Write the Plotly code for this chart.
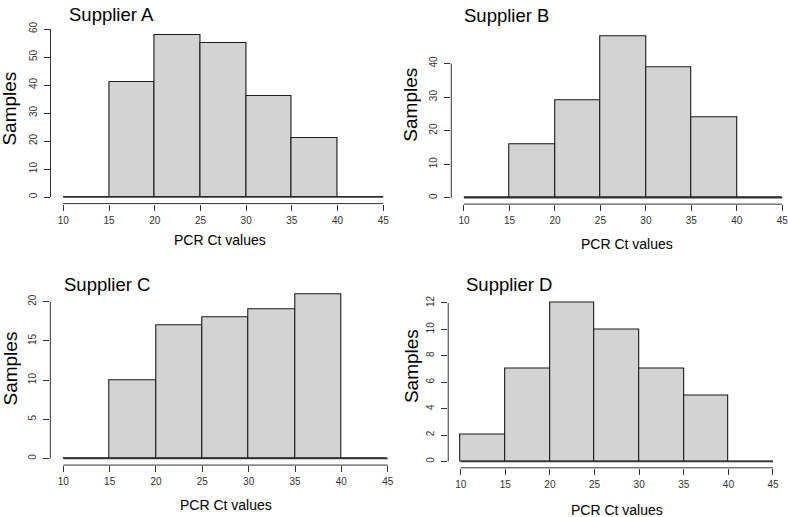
import plotly.graph_objects as go

W, H = 788, 517

bin_edges = [10, 15, 20, 25, 30, 35, 40, 45]
panel_titles = ["Supplier A", "Supplier B", "Supplier C", "Supplier D"]
counts_A = [0, 41, 58, 55, 36, 21, 0]
counts_B = [0, 16, 29, 48, 39, 24, 0]
counts_C = [0, 10, 17, 18, 19, 21, 0]
counts_D = [2, 7, 12, 10, 7, 5, 0]
y_tick_step = [10, 10, 5, 2]
y_tick_top = [60, 40, 20, 12]
x_label = "PCR Ct values"
y_label = "Samples"

all_counts = [counts_A, counts_B, counts_C, counts_D]

# layout geometry in pixels: (px of x=10, px of x=45, px of y=0, px of top tick)
geom = [
    (63.3, 383.3, 192.7, 22.3),
    (464.0, 782.3, 193.3, 57.3),
    (63.3, 387.7, 457.7, 298.7),
    (460.7, 773.0, 460.7, 300.0),
]
title_pos = [(67, 8), (462, 9), (61.7, 281.5), (464, 281.5)]
ylab_pos = [(10, 103), (411, 99), (10.5, 367), (411, 364)]
xlab_pos = [(219.5, 236), (627, 240), (226, 505), (617, 509.5)]

FONT = "Liberation Sans, Arial, Helvetica, sans-serif"
fig = go.Figure()
layout = dict(
    width=W, height=H, margin=dict(l=0, r=0, t=0, b=0),
    paper_bgcolor="white", plot_bgcolor="white", showlegend=False,
    font=dict(family=FONT, color="#000"),
)
shapes = []
annotations = []

for i, counts in enumerate(all_counts):
    n = "" if i == 0 else str(i + 1)
    xa, ya = "x" + n, "y" + n
    p10, p45, py0, pyt = geom[i]
    lo, hi = bin_edges[0], bin_edges[-1]
    sx = (p45 - p10) / (hi - lo)
    padx = 0.04 * (hi - lo)
    left = max(0.0, p10 - padx * sx)
    right = min(W, p45 + padx * sx)
    xrange = [lo - (p10 - left) / sx, hi + (right - p45) / sx]
    ymax = max(counts)
    sy = (py0 - pyt) / y_tick_top[i]
    pady = 0.04 * ymax
    bot = py0 + pady * sy
    top = max(0.0, py0 - (ymax + pady) * sy)
    yrange = [-(bot - py0) / sy, (py0 - top) / sy]

    centers = [(bin_edges[k] + bin_edges[k + 1]) / 2 for k in range(len(counts))]
    widths = [bin_edges[k + 1] - bin_edges[k] for k in range(len(counts))]
    fig.add_trace(go.Bar(
        x=centers, y=counts, width=widths, xaxis=xa, yaxis=ya,
        marker=dict(color="#D3D3D3", line=dict(color="#1a1a1a", width=1.1)),
        hoverinfo="skip",
    ))
    fig.add_trace(go.Scatter(
        x=[bin_edges[0], bin_edges[-1]], y=[0, 0], mode="lines",
        line=dict(color="#333", width=1.5), xaxis=xa, yaxis=ya, hoverinfo="skip",
    ))

    yt = list(range(0, y_tick_top[i] + 1, y_tick_step[i]))
    layout["xaxis" + n] = dict(
        domain=[left / W, right / W], range=xrange, anchor=ya,
        tickvals=bin_edges, ticks="outside", ticklen=6, tickcolor="#333",
        tickfont=dict(size=10, color="#333"), ticklabelstandoff=1,
        ticklabeloverflow="allow",
        showline=False, showgrid=False, zeroline=False, fixedrange=True,
    )
    layout["yaxis" + n] = dict(
        domain=[(H - bot) / H, (H - top) / H], range=yrange, anchor=xa,
        tickvals=yt, ticks="outside", ticklen=6, tickcolor="#333",
        tickfont=dict(size=10, color="#333"), tickangle=-90, ticklabelstandoff=3,
        ticklabeloverflow="allow",
        showline=False, showgrid=False, zeroline=False, fixedrange=True,
    )
    shapes.append(dict(type="line", xref=xa, yref=ya + " domain",
                       x0=bin_edges[0], x1=bin_edges[-1], y0=0, y1=0,
                       line=dict(color="#333", width=1)))
    shapes.append(dict(type="line", xref=xa + " domain", yref=ya,
                       x0=0, x1=0, y0=yt[0], y1=yt[-1],
                       line=dict(color="#333", width=1)))

    tx, ty = title_pos[i]
    annotations.append(dict(text=panel_titles[i], x=tx / W, y=1 - ty / H,
                            xref="paper", yref="paper", xanchor="left", yanchor="middle",
                            showarrow=False, font=dict(size=18.5, color="#000")))
    lx, ly = ylab_pos[i]
    annotations.append(dict(text=y_label, x=lx / W, y=1 - ly / H,
                            xref="paper", yref="paper", xanchor="center", yanchor="middle",
                            textangle=-90, showarrow=False, font=dict(size=19, color="#000")))
    bx, by = xlab_pos[i]
    annotations.append(dict(text=x_label, x=bx / W, y=1 - by / H,
                            xref="paper", yref="paper", xanchor="center", yanchor="middle",
                            showarrow=False, font=dict(size=14, color="#000")))

layout["shapes"] = shapes
layout["annotations"] = annotations
layout["bargap"] = 0
fig.update_layout(**layout)
fig.write_html("out.html")
